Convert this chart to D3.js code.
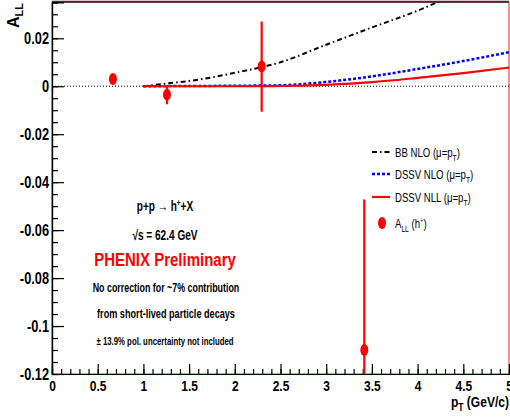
<!DOCTYPE html>
<html><head><meta charset="utf-8">
<script src="https://cdn.jsdelivr.net/npm/d3@7"></script>
<style>
html,body{margin:0;padding:0;background:#fff;}
text{font-family:"Liberation Sans",Arial,sans-serif;}
</style></head>
<body><svg id="c" width="510" height="419"></svg>
<script>
// ---- data ----
const ptPoints = [0.667, 1.258, 2.294, 3.417];
const allPoints = [0.003, -0.0035, 0.0082, -0.110];
const allErrors = [0.002, 0.004, 0.0188, 0.0628];

const bbPt  = [1.0, 1.25, 1.5, 1.75, 2.0, 2.5, 3.0, 3.5, 4.0, 4.5];
const bbNlo = [0.0, 0.0011, 0.0022, 0.0037, 0.0056, 0.0100, 0.0173, 0.0245, 0.0315, 0.040];

const dssvPt  = [1.0, 1.5, 2.0, 2.5, 3.0, 3.5, 4.0, 4.5, 5.0];
const dssvNlo = [0, 0.0001, 0.0002, 0.0004, 0.0018, 0.0041, 0.0072, 0.0105, 0.0142];
const dssvNll = [0, 0, 0, 0.0001, 0.0006, 0.0017, 0.0035, 0.0055, 0.0078];

const yMajor = [0.02, 0, -0.02, -0.04, -0.06, -0.08, -0.1, -0.12];
const yLabels = ["0.02", "0", "-0.02", "-0.04", "-0.06", "-0.08", "-0.1", "-0.12"];
const xMajor = [0, 0.5, 1, 1.5, 2, 2.5, 3, 3.5, 4, 4.5, 5];
const xLabels = ["0", "0.5", "1", "1.5", "2", "2.5", "3", "3.5", "4", "4.5", "5"];

const legendNames = ["BB NLO", "DSSV NLO", "DSSV NLL"];

// ---- helpers ----
function squeeze(sel, f) {
  sel.each(function () {
    const ax = +(this.getAttribute("x") || 0);
    d3.select(this).attr("transform", `translate(${ax},0) scale(${f},1) translate(${-ax},0)`);
  });
}

// ---- layout ----
const svg = d3.select("#c");
const L = 52, R = 509, T = 2.3, B = 374;
const x = d3.scaleLinear().domain([0, 5]).range([L, R]);
const y = d3.scaleLinear().domain([-0.12, 0.035]).range([B, T]);

svg.append("defs").append("clipPath").attr("id", "clip")
  .append("rect").attr("x", L).attr("y", T).attr("width", R - L).attr("height", B - T);

// frame
svg.append("rect").attr("x", L).attr("y", T).attr("width", R - L).attr("height", B - T)
  .attr("fill", "none").attr("stroke", "#e23").attr("stroke-width", 1);
svg.append("line").attr("x1", L).attr("x2", R).attr("y1", 1.8).attr("y2", 1.8)
  .attr("stroke", "#333").attr("stroke-width", 2);

// zero line
svg.append("line").attr("x1", x(0)).attr("x2", x(5)).attr("y1", y(0)).attr("y2", y(0))
  .attr("stroke", "#000").attr("stroke-width", 1).attr("stroke-dasharray", "1,2");

// y axis
const yMinor = d3.range(-0.12, 0.0351, 0.005).map(v => +v.toFixed(4));
const yMin = svg.append("g").attr("transform", `translate(${L},0)`)
  .call(d3.axisLeft(y).tickValues(yMinor).tickSize(-6).tickFormat(""));
const yAx = svg.append("g").attr("transform", `translate(${L},0)`)
  .call(d3.axisLeft(y).tickValues(yMajor).tickSize(-12).tickPadding(3)
    .tickFormat((d, i) => yLabels[i]));
[yMin, yAx].forEach(g => {
  g.select(".domain").attr("stroke", "#000").attr("stroke-width", 1.2);
  g.selectAll(".tick line").attr("stroke", "#000").attr("stroke-width", 1.2);
});
yAx.selectAll(".tick text").attr("font-size", 16).attr("font-weight", "bold")
  .attr("fill", "#000").attr("font-family", '"Liberation Sans",Arial');
squeeze(yAx.selectAll(".tick text"), 0.8);

// x axis
const xMinor = d3.range(0, 5.001, 0.1).map(v => +v.toFixed(2));
const xMin = svg.append("g").attr("transform", `translate(0,${B})`)
  .call(d3.axisBottom(x).tickValues(xMinor).tickSize(-5).tickFormat(""));
const xAx = svg.append("g").attr("transform", `translate(0,${B})`)
  .call(d3.axisBottom(x).tickValues(xMajor).tickSize(-10).tickPadding(4)
    .tickFormat((d, i) => xLabels[i]));
[xMin, xAx].forEach(g => {
  g.select(".domain").attr("stroke", "#000").attr("stroke-width", 1.2);
  g.selectAll(".tick line").attr("stroke", "#000").attr("stroke-width", 1.2);
});
xAx.selectAll(".tick text").attr("font-size", 15).attr("font-weight", "bold")
  .attr("fill", "#000").attr("y", 6).attr("dy", "0.71em")
  .attr("font-family", '"Liberation Sans",Arial');
squeeze(xAx.selectAll(".tick text"), 0.8);

// axis titles
const yt = svg.append("text").attr("transform", "translate(19,3) rotate(-90)")
  .attr("text-anchor", "end").attr("font-weight", "bold").attr("font-size", 16);
yt.append("tspan").text("A");
yt.append("tspan").attr("font-size", 11).attr("dy", 4).text("LL");

const xt = svg.append("text").attr("x", 509).attr("y", 407).attr("text-anchor", "end")
  .attr("font-weight", "bold").attr("font-size", 14);
xt.append("tspan").text("p");
xt.append("tspan").attr("font-size", 10).attr("dy", 4).text("T");
xt.append("tspan").attr("dy", -4).text(" (GeV/c)");
squeeze(xt, 0.86);

// curves
const plot = svg.append("g").attr("clip-path", "url(#clip)");
const line = d3.line().x(d => x(d[0])).y(d => y(d[1])).curve(d3.curveMonotoneX);
plot.append("path").datum(bbPt.map((p, i) => [p, bbNlo[i]])).attr("d", line)
  .attr("fill", "none").attr("stroke", "#000").attr("stroke-width", 2)
  .attr("stroke-dasharray", "5,3,1.5,3");
plot.append("path").datum(dssvPt.map((p, i) => [p, dssvNlo[i]])).attr("d", line)
  .attr("fill", "none").attr("stroke", "#00f").attr("stroke-width", 2.5)
  .attr("stroke-dasharray", "3,2");
plot.append("path").datum(dssvPt.map((p, i) => [p, dssvNll[i]])).attr("d", line)
  .attr("fill", "none").attr("stroke", "#f00").attr("stroke-width", 2.2);

// data points
const pts = ptPoints.map((p, i) => ({p, v: allPoints[i], e: allErrors[i]}));
plot.selectAll("line.err").data(pts).enter().append("line").attr("class", "err")
  .attr("x1", d => x(d.p)).attr("x2", d => x(d.p))
  .attr("y1", d => y(d.v + d.e)).attr("y2", d => y(d.v - d.e))
  .attr("stroke", "#f00").attr("stroke-width", 2.2);
plot.selectAll("ellipse.pt").data(pts).enter().append("ellipse").attr("class", "pt")
  .attr("cx", d => x(d.p)).attr("cy", d => y(d.v)).attr("rx", 4).attr("ry", 6)
  .attr("fill", "#f00");

// legend
const lg = svg.append("g");
const lgY = [152, 174, 197, 223];
const lgStyles = [
  {stroke: "#000", dash: "5,3,1.5,3", w: 2},
  {stroke: "#00f", dash: "3,2", w: 2.5},
  {stroke: "#f00", dash: null, w: 2.2}
];
legendNames.forEach((n, i) => {
  lg.append("line").attr("x1", 372).attr("x2", 390).attr("y1", lgY[i]).attr("y2", lgY[i])
    .attr("stroke", lgStyles[i].stroke).attr("stroke-width", lgStyles[i].w)
    .attr("stroke-dasharray", lgStyles[i].dash);
  const t = lg.append("text").attr("x", 395).attr("y", lgY[i] + 5).attr("font-size", 13);
  t.append("tspan").text(n + " (\u03bc=p");
  t.append("tspan").attr("font-size", 9).attr("dy", 4).text("T");
  t.append("tspan").attr("dy", -4).text(")");
  squeeze(t, 0.74);
});
lg.append("ellipse").attr("cx", 382).attr("cy", lgY[3]).attr("rx", 4).attr("ry", 6).attr("fill", "#f00");
const t4 = lg.append("text").attr("x", 395).attr("y", lgY[3] + 5).attr("font-size", 13);
t4.append("tspan").text("A");
t4.append("tspan").attr("font-size", 9).attr("dy", 4).text("LL");
t4.append("tspan").attr("dy", -4).text(" (h");
t4.append("tspan").attr("font-size", 8).attr("dy", -5).text("+");
t4.append("tspan").attr("dy", 5).text(")");
squeeze(t4, 0.74);

// annotations
const ann = svg.append("g").attr("font-weight", "bold").attr("text-anchor", "middle");
const a1 = ann.append("text").attr("x", 165).attr("y", 211).attr("font-size", 14);
a1.append("tspan").text("p+p \u2192 h");
a1.append("tspan").attr("font-size", 9).attr("dy", -5).text("+");
a1.append("tspan").attr("dy", 5).text("+X");
squeeze(a1, 0.72);
const a2 = ann.append("text").attr("x", 165).attr("y", 240).attr("font-size", 14).text("\u221as = 62.4 GeV");
squeeze(a2, 0.72);
const a3 = ann.append("text").attr("x", 165).attr("y", 266).attr("font-size", 19).attr("fill", "#f00")
  .text("PHENIX Preliminary");
squeeze(a3, 0.79);
const a4 = ann.append("text").attr("x", 166).attr("y", 292).attr("font-size", 12.5)
  .text("No correction for ~7% contribution");
squeeze(a4, 0.71);
const a5 = ann.append("text").attr("x", 166).attr("y", 318).attr("font-size", 12.5)
  .text("from short-lived particle decays");
squeeze(a5, 0.73);
const a6 = ann.append("text").attr("x", 165).attr("y", 345).attr("font-size", 10)
  .text("\u00b1 13.9% pol. uncertainty not included");
squeeze(a6, 0.78);
</script></body></html>
